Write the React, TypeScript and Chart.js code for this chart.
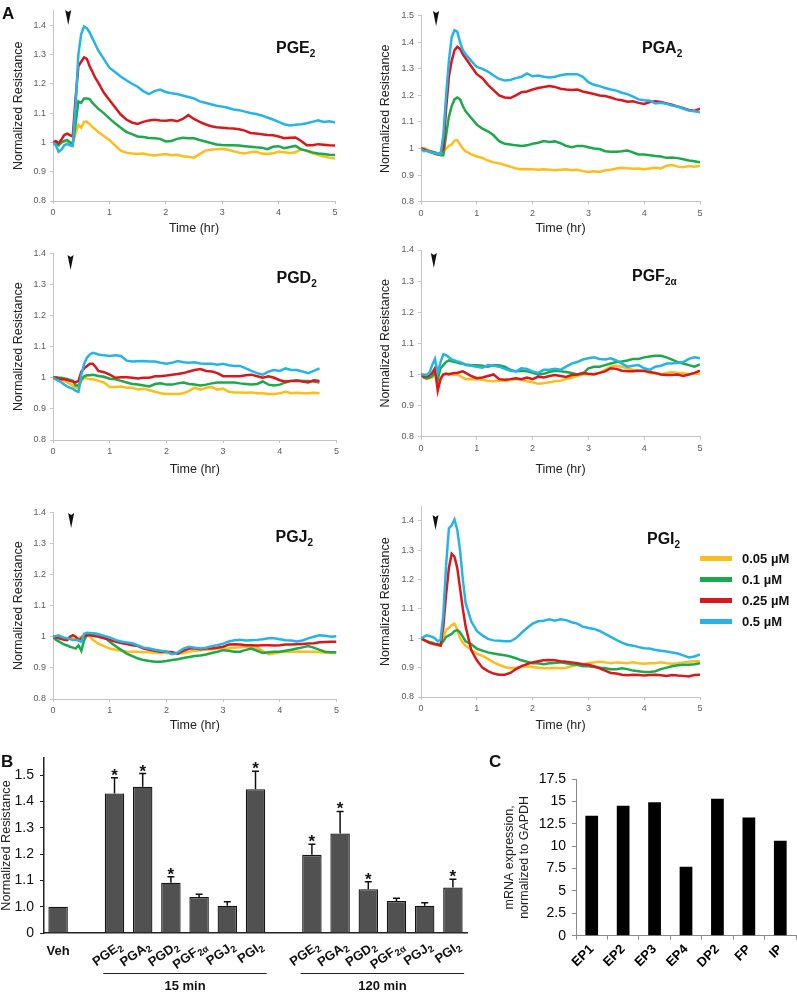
import React, { useEffect, useRef } from 'react';
import { Chart, registerables } from 'chart.js';

Chart.register(...registerables);

const FONT = '"Liberation Sans", Arial, Helvetica, sans-serif';
Chart.defaults.font.family = FONT;

// ---------------- Panel A data ----------------
const TIME_HR = [0, 0.05, 0.1, 0.15, 0.2, 0.25, 0.3, 0.35, 0.4, 0.45, 0.5, 0.55, 0.6, 0.65, 0.7, 0.75, 0.8,
  0.9, 1, 1.1, 1.2, 1.3, 1.4, 1.5, 1.6, 1.7, 1.8, 1.9, 2, 2.1, 2.2, 2.3, 2.4, 2.5, 2.6, 2.7, 2.8, 2.9,
  3, 3.1, 3.2, 3.3, 3.4, 3.5, 3.6, 3.7, 3.8, 3.9, 4, 4.1, 4.2, 4.3, 4.4, 4.5, 4.6, 4.7, 4.8, 4.9, 5];

const DOSE_LABELS = ['0.05 µM', '0.1 µM', '0.25 µM', '0.5 µM'];
const DOSE_COLORS = ['#FDBE1C', '#1CA94C', '#D9181E', '#26B4E7'];

const X_TICKS = [0, 1, 2, 3, 4, 5];
const Y_TICKS_14 = [0.8, 0.9, 1, 1.1, 1.2, 1.3, 1.4];
const Y_TICKS_15 = [0.8, 0.9, 1, 1.1, 1.2, 1.3, 1.4, 1.5];

// PGE2
const PGE2_005 = [1.0, 0.995, 0.99, 1.0, 1.002, 1.005, 1.0, 0.997, 1.03, 1.06, 1.05, 1.07, 1.07, 1.062, 1.052, 1.045, 1.035,
  1.022, 1.008,
  0.99, 0.972, 0.965, 0.962, 0.96, 0.962, 0.958, 0.955, 0.958,
  0.96, 0.956, 0.958, 0.953, 0.951, 0.948, 0.96, 0.972, 0.975, 0.977,
  0.978, 0.975, 0.97, 0.965, 0.962, 0.966, 0.968, 0.962, 0.96, 0.963,
  0.968, 0.966, 0.964, 0.966, 0.976, 0.97, 0.963, 0.958, 0.952, 0.948,
  0.945];
const PGE2_01 = [1.0, 0.995, 0.99, 1.0, 1.005, 1.008, 1.0, 0.995, 1.06, 1.14, 1.135, 1.15, 1.15, 1.148, 1.135, 1.125, 1.115,
  1.1, 1.082,
  1.065, 1.05, 1.036, 1.028, 1.02, 1.018, 1.015, 1.014, 1.012,
  1.003, 1.005, 1.012, 1.016, 1.014, 1.014, 1.008, 1.003, 0.998, 0.993,
  0.991, 0.99, 0.99, 0.989, 0.987, 0.985, 0.983, 0.982, 0.977, 0.985,
  0.987, 0.98, 0.984, 0.988, 0.976, 0.972, 0.966, 0.962, 0.96, 0.958,
  0.957];
const PGE2_025 = [1.0, 1.005, 0.997, 1.01, 1.025, 1.03, 1.025, 1.02, 1.15, 1.26, 1.275, 1.29, 1.285, 1.26, 1.24, 1.22, 1.205,
  1.17, 1.145,
  1.12, 1.095, 1.078, 1.068, 1.063, 1.07, 1.075, 1.077, 1.075,
  1.074, 1.076, 1.072, 1.08, 1.093, 1.08, 1.07, 1.062, 1.055, 1.052,
  1.05, 1.048, 1.047, 1.045, 1.04, 1.032, 1.03, 1.028, 1.025, 1.024,
  1.02, 1.014, 1.016, 1.017, 1.005, 0.99, 0.99, 0.994, 0.992, 0.99,
  0.989];
const PGE2_05 = [1.0, 0.99, 0.968, 0.975, 0.99, 0.995, 0.99, 0.988, 1.12, 1.3, 1.37, 1.395, 1.39, 1.375, 1.355, 1.335, 1.315,
  1.285, 1.255,
  1.24, 1.225, 1.212, 1.2, 1.19, 1.175, 1.165, 1.175, 1.18,
  1.172, 1.168, 1.165, 1.16, 1.155, 1.15, 1.14, 1.135, 1.13, 1.125,
  1.122, 1.118, 1.112, 1.11, 1.105, 1.1, 1.097, 1.092, 1.085, 1.078,
  1.07, 1.062, 1.058, 1.06, 1.062, 1.065, 1.07, 1.075, 1.07, 1.072,
  1.068];

// PGA2
const PGA2_005 = [1.0, 1.002, 0.998, 0.992, 0.988, 0.985, 0.98, 0.985, 0.988, 1.0, 1.01, 1.015, 1.03, 1.032, 1.015, 1.0, 0.99,
  0.978, 0.97,
  0.965, 0.955, 0.948, 0.945, 0.938, 0.932, 0.925, 0.922, 0.923,
  0.922, 0.92, 0.922, 0.92, 0.918, 0.92, 0.922, 0.918, 0.92, 0.915,
  0.912, 0.915, 0.912, 0.918, 0.92, 0.925, 0.928, 0.926, 0.924, 0.925,
  0.922, 0.925, 0.928, 0.925, 0.935, 0.938, 0.932, 0.93, 0.934, 0.932,
  0.935];
const PGA2_01 = [1.0, 0.995, 0.992, 0.99, 0.988, 0.985, 0.98, 0.975, 0.975, 1.05, 1.12, 1.16, 1.185, 1.192, 1.185, 1.16, 1.14,
  1.115, 1.09,
  1.075, 1.065, 1.05, 1.028, 1.018, 1.015, 1.012, 1.01, 1.012,
  1.018, 1.022, 1.028, 1.025, 1.027, 1.02, 1.01, 1.005, 1.01, 1.01,
  1.005, 1.0, 0.998, 0.99, 0.988, 0.988, 0.99, 0.993, 0.985, 0.978,
  0.978, 0.975, 0.972, 0.97, 0.965, 0.966, 0.964, 0.96, 0.955, 0.952,
  0.948];
const PGA2_025 = [1.0, 0.998, 0.993, 0.988, 0.985, 0.98, 0.978, 0.982, 1.0, 1.15, 1.27, 1.33, 1.37, 1.383, 1.375, 1.355, 1.34,
  1.31, 1.28,
  1.265, 1.24, 1.22, 1.2, 1.192, 1.19, 1.2, 1.212, 1.215,
  1.222, 1.228, 1.232, 1.235, 1.232, 1.225, 1.222, 1.22, 1.222, 1.215,
  1.21, 1.205, 1.2, 1.198, 1.192, 1.185, 1.182, 1.176, 1.178, 1.172,
  1.168, 1.175, 1.178, 1.175, 1.17, 1.165, 1.158, 1.152, 1.145, 1.142,
  1.15];
const PGA2_05 = [1.0, 0.99, 0.992, 0.988, 0.985, 0.982, 0.98, 0.978, 1.05, 1.2, 1.33, 1.42, 1.445, 1.44, 1.4, 1.37, 1.355,
  1.33, 1.307,
  1.3, 1.29, 1.275, 1.262, 1.256, 1.258, 1.265, 1.27, 1.283,
  1.272, 1.275, 1.27, 1.267, 1.27, 1.276, 1.28, 1.28, 1.28, 1.27,
  1.25, 1.24, 1.235, 1.228, 1.222, 1.218, 1.21, 1.205, 1.195, 1.185,
  1.182, 1.18, 1.17, 1.172, 1.168, 1.162, 1.158, 1.15, 1.143, 1.14,
  1.137];

// PGD2 (recording ends near 4.7 h)
const PGD2_005 = [1.0, 1.0, 0.998, 0.995, 0.99, 0.985, 0.98, 0.975, 0.97, 0.965, 0.99, 1.0, 0.998, 0.995, 0.995, 0.993, 0.99,
  0.985, 0.97,
  0.97, 0.972, 0.968, 0.968, 0.962, 0.965, 0.96, 0.955, 0.95,
  0.948, 0.948, 0.948, 0.95, 0.958, 0.968, 0.962, 0.968, 0.97, 0.962,
  0.965, 0.955, 0.953, 0.953, 0.952, 0.953, 0.95, 0.95, 0.948, 0.948,
  0.95, 0.955, 0.95, 0.952, 0.95, 0.95, 0.952, 0.95];
const PGD2_01 = [1.0, 1.002, 1.0, 1.0, 0.998, 0.996, 0.993, 0.99, 0.975, 0.975, 0.995, 1.005, 1.008, 1.008, 1.01, 1.008, 1.006,
  1.003, 0.997,
  0.995, 0.99, 0.985, 0.98, 0.978, 0.975, 0.972, 0.98, 0.982,
  0.978, 0.978, 0.982, 0.985, 0.98, 0.978, 0.975, 0.978, 0.982, 0.985,
  0.985, 0.985, 0.985, 0.982, 0.98, 0.978, 0.98, 0.988, 0.978, 0.975,
  0.978, 0.985, 0.99, 0.992, 0.99, 0.99, 0.988, 0.985];
const PGD2_025 = [1.0, 1.0, 0.998, 0.995, 0.995, 0.993, 0.99, 0.988, 0.985, 0.99, 1.02, 1.03, 1.038, 1.045, 1.045, 1.035, 1.022,
  1.018, 1.01,
  1.0, 1.002, 1.002, 1.0, 0.998, 1.0, 1.0, 1.005, 1.005,
  1.007, 1.01, 1.012, 1.015, 1.02, 1.025, 1.028, 1.022, 1.02, 1.015,
  1.005, 1.005, 1.005, 1.005, 1.008, 1.01, 1.005, 1.0, 1.005, 1.0,
  0.992, 0.988, 0.99, 0.99, 0.988, 0.985, 0.992, 0.99];
const PGD2_05 = [1.0, 0.995, 0.99, 0.985, 0.978, 0.972, 0.968, 0.965, 0.958, 0.955, 1.01, 1.045, 1.065, 1.075, 1.08, 1.078, 1.075,
  1.072, 1.07,
  1.072, 1.07, 1.055, 1.052, 1.053, 1.054, 1.052, 1.052, 1.048,
  1.045, 1.048, 1.054, 1.05, 1.048, 1.05, 1.046, 1.045, 1.045, 1.042,
  1.045, 1.04, 1.038, 1.038, 1.03, 1.022, 1.015, 1.01, 1.02, 1.025,
  1.022, 1.03, 1.025, 1.025, 1.02, 1.015, 1.022, 1.03];

// PGF2α
const PGF2A_005 = [1.0, 0.99, 0.985, 0.988, 0.99, 1.0, 0.97, 0.99, 1.0, 1.0, 1.002, 1.0, 0.998, 1.0, 0.995, 0.99, 0.985,
  0.985, 0.985,
  0.982, 0.98, 0.978, 0.98, 0.98, 0.982, 0.985, 0.982, 0.978,
  0.975, 0.97, 0.972, 0.975, 0.978, 0.98, 0.985, 0.99, 0.995, 1.0,
  1.0, 1.002, 1.005, 1.015, 1.025, 1.028, 1.025, 1.02, 1.015, 1.012,
  1.01, 1.005, 1.003, 1.0, 1.005, 1.008, 1.005, 1.005, 1.0, 1.003,
  1.002];
const PGF2A_01 = [1.0, 0.99, 0.988, 0.99, 0.995, 1.005, 0.985, 1.02, 1.03, 1.04, 1.045, 1.042, 1.04, 1.038, 1.035, 1.035, 1.032,
  1.03, 1.03,
  1.028, 1.025, 1.03, 1.03, 1.025, 1.015, 1.01, 1.012, 1.01,
  1.005, 1.0, 1.002, 1.008, 1.012, 1.01, 1.008, 1.005, 1.0, 1.002,
  1.02, 1.025, 1.025, 1.03, 1.035, 1.04, 1.042, 1.045, 1.05, 1.05,
  1.055, 1.058, 1.06, 1.06, 1.055, 1.048, 1.04, 1.035, 1.03, 1.025,
  1.032];
const PGF2A_025 = [1.0, 0.995, 0.993, 0.998, 1.005, 1.02, 0.948, 0.985, 1.0, 1.003, 1.0, 1.003, 1.005, 1.005, 1.008, 1.01, 1.005,
  0.995, 0.988,
  0.99, 0.995, 1.0, 0.985, 0.983, 0.985, 0.988, 0.985, 0.99,
  0.985, 0.993, 0.99, 0.995, 0.998, 0.995, 0.992, 0.998, 1.0, 1.005,
  1.002, 1.0, 1.005, 1.01, 1.02, 1.018, 1.012, 1.01, 1.01, 1.012,
  1.012, 1.008, 1.005, 1.0, 0.998, 0.998, 1.0, 0.995, 1.0, 1.005,
  1.012];
const PGF2A_05 = [1.0, 1.0, 0.998, 1.005, 1.03, 1.05, 1.005, 1.04, 1.065, 1.062, 1.055, 1.048, 1.045, 1.042, 1.04, 1.035, 1.03,
  1.028, 1.025,
  1.022, 1.03, 1.028, 1.025, 1.018, 1.012, 1.01, 1.02, 1.018,
  1.01, 1.005, 1.015, 1.015, 1.018, 1.015, 1.025, 1.035, 1.04, 1.048,
  1.052, 1.055, 1.05, 1.048, 1.052, 1.045, 1.035, 1.025, 1.028, 1.03,
  1.02, 1.015, 1.025, 1.028, 1.035, 1.035, 1.038, 1.04, 1.05, 1.055,
  1.052];

// PGJ2
const PGJ2_005 = [1.0, 1.0, 0.998, 0.997, 0.995, 0.995, 0.997, 0.995, 0.993, 0.995, 1.0, 1.008, 1.01, 1.0, 0.99, 0.984, 0.978,
  0.97, 0.962,
  0.958, 0.955, 0.953, 0.952, 0.952, 0.95, 0.95, 0.949, 0.948,
  0.948, 0.947, 0.946, 0.948, 0.952, 0.955, 0.957, 0.958, 0.96, 0.962,
  0.962, 0.963, 0.965, 0.966, 0.968, 0.968, 0.965, 0.955, 0.944, 0.946,
  0.95, 0.952, 0.952, 0.953, 0.952, 0.952, 0.952, 0.95, 0.949, 0.948,
  0.948];
const PGJ2_01 = [1.0, 0.99, 0.985, 0.98, 0.975, 0.972, 0.968, 0.965, 0.962, 0.972, 0.955, 0.99, 1.005, 1.008, 1.01, 1.01, 1.008,
  1.0, 0.984,
  0.97, 0.958, 0.946, 0.938, 0.93, 0.925, 0.922, 0.92, 0.92,
  0.922, 0.925, 0.928, 0.932, 0.935, 0.938, 0.94, 0.943, 0.948, 0.952,
  0.957, 0.955, 0.952, 0.952, 0.958, 0.962, 0.955, 0.948, 0.95, 0.952,
  0.952, 0.955, 0.958, 0.962, 0.966, 0.97, 0.965, 0.958, 0.952, 0.95,
  0.95];
const PGJ2_025 = [1.0, 0.998, 0.995, 0.993, 0.99, 0.989, 1.0, 1.005, 1.0, 0.989, 0.995, 1.002, 1.005, 1.005, 1.003, 1.002, 1.0,
  0.995, 0.99,
  0.985, 0.98, 0.977, 0.973, 0.97, 0.962, 0.958, 0.955, 0.952,
  0.952, 0.95, 0.946, 0.955, 0.962, 0.962, 0.96, 0.962, 0.962, 0.965,
  0.968, 0.975, 0.976, 0.975, 0.973, 0.973, 0.972, 0.973, 0.973, 0.972,
  0.973, 0.975, 0.975, 0.976, 0.977, 0.978, 0.979, 0.982, 0.983, 0.984,
  0.984];
const PGJ2_05 = [1.0, 1.003, 1.005, 1.0, 0.997, 0.995, 0.993, 0.99, 0.99, 0.988, 0.984, 1.01, 1.013, 1.012, 1.011, 1.01, 1.008,
  1.003, 0.998,
  0.99, 0.985, 0.982, 0.979, 0.972, 0.965, 0.962, 0.958, 0.955,
  0.952, 0.944, 0.95, 0.962, 0.968, 0.965, 0.962, 0.965, 0.97, 0.973,
  0.978, 0.985, 0.989, 0.99, 0.988, 0.989, 0.99, 0.992, 0.995, 0.995,
  0.992, 0.989, 0.988, 0.985, 0.988, 0.995, 1.0, 1.005, 1.003, 1.0,
  1.002];

// PGI2
const PGI2_005 = [1.0, 0.995, 0.99, 0.985, 0.982, 0.98, 0.978, 0.975, 1.0, 1.03, 1.035, 1.045, 1.05, 1.03, 1.0, 0.985, 0.975,
  0.96, 0.948,
  0.94, 0.93, 0.918, 0.91, 0.902, 0.898, 0.9, 0.902, 0.905,
  0.902, 0.9, 0.898, 0.898, 0.9, 0.898, 0.9, 0.905, 0.91, 0.912,
  0.915, 0.918, 0.92, 0.918, 0.915, 0.918, 0.917, 0.915, 0.918, 0.915,
  0.913, 0.915, 0.915, 0.918, 0.915, 0.913, 0.915, 0.918, 0.92, 0.922,
  0.922];
const PGI2_01 = [1.0, 0.995, 0.99, 0.988, 0.985, 0.982, 0.98, 0.978, 0.99, 1.005, 1.01, 1.015, 1.025, 1.028, 1.02, 1.005, 0.99,
  0.98, 0.965,
  0.958, 0.952, 0.948, 0.945, 0.942, 0.938, 0.932, 0.925, 0.92,
  0.915, 0.915, 0.912, 0.915, 0.916, 0.918, 0.915, 0.912, 0.91, 0.905,
  0.905, 0.902, 0.9, 0.898, 0.895, 0.895, 0.898, 0.895, 0.89, 0.888,
  0.885, 0.885, 0.888, 0.895, 0.9, 0.905, 0.908, 0.91, 0.91, 0.912,
  0.915];
const PGI2_025 = [1.0, 0.995, 0.99, 0.985, 0.982, 0.98, 0.978, 0.975, 1.04, 1.15, 1.24, 1.288, 1.278, 1.24, 1.17, 1.1, 1.04,
  0.96, 0.925,
  0.9, 0.888, 0.88, 0.876, 0.876, 0.882, 0.895, 0.905, 0.912,
  0.918, 0.922, 0.925, 0.926, 0.925, 0.922, 0.92, 0.918, 0.915, 0.912,
  0.91, 0.905, 0.898, 0.89, 0.882, 0.88, 0.876, 0.874, 0.876, 0.875,
  0.873, 0.875, 0.876, 0.874, 0.872, 0.875, 0.873, 0.872, 0.87, 0.875,
  0.876];
const PGI2_05 = [1.0, 1.005, 1.01, 1.008, 1.005, 1.0, 0.99, 0.995, 1.08, 1.25, 1.375, 1.385, 1.405, 1.37, 1.3, 1.2, 1.12,
  1.058, 1.025,
  1.01, 0.998, 0.993, 0.992, 0.99, 0.99, 1.0, 1.018, 1.035,
  1.05, 1.058, 1.06, 1.065, 1.06, 1.065, 1.062, 1.055, 1.05, 1.04,
  1.035, 1.032, 1.025, 1.015, 1.005, 0.995, 0.985, 0.978, 0.975, 0.97,
  0.966, 0.965, 0.96, 0.958, 0.955, 0.952, 0.948, 0.942, 0.935, 0.938,
  0.945];

// ---------------- Panel B data ----------------
const B_AXIS_BREAK = 0.9; // drawn as "0" on the broken axis
const B_NAMES = ['Veh', '', 'PGE', 'PGA', 'PGD', 'PGF', 'PGJ', 'PGI', '', 'PGE', 'PGA', 'PGD', 'PGF', 'PGJ', 'PGI'];
const B_SUBS = ['', '', '2', '2', '2', '2α', '2', '2', '', '2', '2', '2', '2α', '2', '2'];
const B_VALUES = [1.0, null, 1.43, 1.456, 1.091, 1.037, 1.004, 1.446, null, 1.197, 1.278, 1.066, 1.022, 1.004, 1.073];
const B_SEM = [0, null, 0.06, 0.05, 0.023, 0.01, 0.015, 0.069, null, 0.04, 0.084, 0.029, 0.01, 0.011, 0.031];
const B_SIG = [false, false, true, true, true, false, false, true, false, true, true, true, false, false, true];
const B_TICKS = [0.9, 1.0, 1.1, 1.2, 1.3, 1.4, 1.5];
const B_GROUPS = [
  { label: '15 min', first: 2, last: 7 },
  { label: '120 min', first: 9, last: 14 },
];

// ---------------- Panel C data ----------------
const C_LABELS = ['EP1', 'EP2', 'EP3', 'EP4', 'DP2', 'FP', 'IP'];
const C_VALUES = [13.4, 14.5, 14.9, 7.7, 15.3, 13.2, 10.6];

// ---------------- layout ----------------
const AXIS_GRAY = '#c4c4c4';
const TICK_GRAY = '#5a5a5a';

const COLS = [{ left: 0, width: 367 }, { left: 367, width: 430 }];
const ROWS = [{ top: 0, height: 236 }, { top: 240, height: 237 }, { top: 495, height: 238 }];

type Panel = {
  name: string; sub: string; series: number[][]; yMax: number; yTicks: number[];
  col: number; row: number; area: { l: number; r: number; t: number; b: number };
  arrow: { time: number; top: number }; titleAt: { x: number; y: number };
};

const PANELS: Panel[] = [
  { name: 'PGE', sub: '2', series: [PGE2_005, PGE2_01, PGE2_025, PGE2_05], yMax: 1.45, yTicks: Y_TICKS_14,
    col: 0, row: 0, area: { l: 53, r: 335, t: 10.5, b: 201 }, arrow: { time: 0.27, top: 10 }, titleAt: { x: 276, y: 39.5 } },
  { name: 'PGA', sub: '2', series: [PGA2_005, PGA2_01, PGA2_025, PGA2_05], yMax: 1.5, yTicks: Y_TICKS_15,
    col: 1, row: 0, area: { l: 421, r: 700, t: 15.7, b: 201.7 }, arrow: { time: 0.27, top: 11 }, titleAt: { x: 642, y: 39.5 } },
  { name: 'PGD', sub: '2', series: [PGD2_005, PGD2_01, PGD2_025, PGD2_05], yMax: 1.4, yTicks: Y_TICKS_14,
    col: 0, row: 1, area: { l: 53, r: 336.5, t: 253.3, b: 440 }, arrow: { time: 0.31, top: 15 }, titleAt: { x: 276.5, y: 269.5 } },
  { name: 'PGF', sub: '2α', series: [PGF2A_005, PGF2A_01, PGF2A_025, PGF2A_05], yMax: 1.4, yTicks: Y_TICKS_14,
    col: 1, row: 1, area: { l: 421, r: 700, t: 250, b: 436.7 }, arrow: { time: 0.23, top: 13 }, titleAt: { x: 632, y: 268 } },
  { name: 'PGJ', sub: '2', series: [PGJ2_005, PGJ2_01, PGJ2_025, PGJ2_05], yMax: 1.4, yTicks: Y_TICKS_14,
    col: 0, row: 2, area: { l: 53, r: 336.5, t: 512.3, b: 699 }, arrow: { time: 0.32, top: 18 }, titleAt: { x: 275.5, y: 528.5 } },
  { name: 'PGI', sub: '2', series: [PGI2_005, PGI2_01, PGI2_025, PGI2_05], yMax: 1.45, yTicks: Y_TICKS_14,
    col: 1, row: 2, area: { l: 421, r: 700, t: 506.3, b: 697 }, arrow: { time: 0.26, top: 20 }, titleAt: { x: 647, y: 531 } },
];

const arrowPlugin = {
  id: 'arrowMark',
  afterDraw(chart: any, _args: any, opts: any) {
    const x = chart.scales.x.getPixelForValue(opts.time);
    const ctx = chart.ctx;
    ctx.save();
    ctx.fillStyle = '#111';
    ctx.beginPath();
    ctx.moveTo(x - 3, opts.top);
    ctx.lineTo(x, opts.top + 2);
    ctx.lineTo(x + 3, opts.top);
    ctx.lineTo(x, opts.top + 15);
    ctx.closePath();
    ctx.fill();
    ctx.restore();
  },
};

function fmtTick(v: any) {
  return String(Number(Number(v).toFixed(2)));
}

function LinePanel({ p }: { p: Panel }) {
  const ref = useRef<HTMLCanvasElement>(null);
  const col = COLS[p.col];
  const row = ROWS[p.row];
  useEffect(() => {
    const a = p.area;
    const chart = new Chart(ref.current as HTMLCanvasElement, {
      type: 'line',
      data: {
        datasets: p.series.map((s, k) => ({
          label: DOSE_LABELS[k],
          data: s.map((v, i) => ({ x: TIME_HR[i], y: v })),
          borderColor: DOSE_COLORS[k],
          backgroundColor: DOSE_COLORS[k],
          borderWidth: 2.5,
          pointRadius: 0,
          tension: 0,
          fill: false,
          order: DOSE_LABELS.length - 1 - k,
        })),
      },
      options: {
        responsive: false,
        animation: false,
        devicePixelRatio: 1,
        events: [],
        layout: { padding: { top: a.t - row.top, right: col.left + col.width - a.r, left: 0, bottom: 0 } },
        plugins: {
          legend: { display: false },
          tooltip: { enabled: false },
          arrowMark: { time: p.arrow.time, top: p.arrow.top },
        } as any,
        scales: {
          x: {
            type: 'linear', min: 0, max: 5,
            afterBuildTicks: (s: any) => { s.ticks = X_TICKS.map((v) => ({ value: v })); },
            afterFit: (s: any) => { s.height = row.top + row.height - a.b; s.paddingLeft = 0; s.paddingRight = 0; },
            ticks: { font: { size: 9 }, color: TICK_GRAY, padding: 3, callback: fmtTick },
            grid: { drawOnChartArea: false, tickLength: 3, color: AXIS_GRAY },
            border: { color: AXIS_GRAY, width: 1 },
            title: { display: true, text: 'Time (hr)', color: '#222', font: { size: 12.5, lineHeight: 1.2 }, padding: 0 },
          },
          y: {
            type: 'linear', min: 0.8, max: p.yMax,
            afterBuildTicks: (s: any) => { s.ticks = p.yTicks.map((v) => ({ value: v })); },
            afterFit: (s: any) => { s.width = a.l - col.left; s.paddingTop = 0; s.paddingBottom = 0; },
            ticks: { font: { size: 9 }, color: TICK_GRAY, padding: 4, callback: fmtTick },
            grid: { drawOnChartArea: false, tickLength: 3, color: AXIS_GRAY },
            border: { color: AXIS_GRAY, width: 1 },
            title: { display: true, text: 'Normalized Resistance', color: '#222', font: { size: 12.5, lineHeight: 1.2 }, padding: { top: 11, bottom: 0 } },
          },
        },
      } as any,
      plugins: [arrowPlugin],
    });
    return () => chart.destroy();
  }, [p]);
  return (
    <canvas ref={ref} width={col.width} height={row.height}
      style={{ position: 'absolute', left: col.left, top: row.top, width: col.width, height: row.height }} />
  );
}

// ---------- Panel B ----------
const errorBarPlugin = {
  id: 'errorBars',
  afterDatasetsDraw(chart: any) {
    const meta = chart.getDatasetMeta(0);
    const y = chart.scales.y;
    const ctx = chart.ctx;
    ctx.save();
    ctx.strokeStyle = '#111';
    ctx.fillStyle = '#111';
    ctx.lineWidth = 1.5;
    B_VALUES.forEach((v, i) => {
      if (v == null) return;
      const el = meta.data[i];
      const x = el.x;
      const err = B_SEM[i] || 0;
      let capY = y.getPixelForValue(v);
      if (err > 0) {
        capY = y.getPixelForValue(v + err);
        ctx.beginPath();
        ctx.moveTo(x, y.getPixelForValue(v));
        ctx.lineTo(x, capY);
        ctx.moveTo(x - 3.5, capY);
        ctx.lineTo(x + 3.5, capY);
        ctx.stroke();
      }
      if (B_SIG[i]) {
        ctx.font = `bold 17px ${FONT}`;
        ctx.textAlign = 'center';
        ctx.textBaseline = 'alphabetic';
        ctx.fillText('*', x, capY + 3);
      }
    });
    ctx.restore();
  },
};

const bLabelPlugin = {
  id: 'bLabels',
  afterDraw(chart: any) {
    const xs = chart.scales.x;
    const meta = chart.getDatasetMeta(0);
    const ctx = chart.ctx;
    const y0 = xs.top;
    ctx.save();
    ctx.fillStyle = '#111';
    B_NAMES.forEach((name, i) => {
      if (!name) return;
      const x = xs.getPixelForValue(i);
      const sub = B_SUBS[i];
      if (!sub) {
        ctx.font = `bold 13px ${FONT}`;
        ctx.textAlign = 'center';
        ctx.textBaseline = 'top';
        ctx.fillText(name, x, y0 + 12);
        return;
      }
      ctx.save();
      ctx.translate(x + 3, y0 + 7);
      ctx.rotate(-35 * Math.PI / 180);
      ctx.textAlign = 'left';
      ctx.textBaseline = 'alphabetic';
      ctx.font = `bold 13px ${FONT}`;
      const wMain = ctx.measureText(name).width;
      ctx.font = `bold 9.5px ${FONT}`;
      const wSub = ctx.measureText(sub).width;
      ctx.font = `bold 13px ${FONT}`;
      ctx.fillText(name, -(wMain + wSub), 9.5);
      ctx.font = `bold 9.5px ${FONT}`;
      ctx.fillText(sub, -wSub, 12.5);
      ctx.restore();
    });
    ctx.strokeStyle = '#222';
    ctx.lineWidth = 1;
    B_GROUPS.forEach((g) => {
      const e1 = meta.data[g.first];
      const e2 = meta.data[g.last];
      const x1 = e1.x - e1.width / 2 - 1.5;
      const x2 = e2.x + e2.width / 2 + 1.5;
      ctx.beginPath();
      ctx.moveTo(x1, y0 + 40.5);
      ctx.lineTo(x2, y0 + 40.5);
      ctx.stroke();
      ctx.font = `bold 13px ${FONT}`;
      ctx.textAlign = 'center';
      ctx.textBaseline = 'middle';
      ctx.fillText(g.label, (x1 + x2) / 2, y0 + 53.5);
    });
    ctx.restore();
  },
};

const B_BOX = { left: 0, top: 745, width: 480, height: 253 };
const B_AREA = { l: 44, r: 467, t: 758, b: 933 };

function ChartB() {
  const ref = useRef<HTMLCanvasElement>(null);
  useEffect(() => {
    const chart = new Chart(ref.current as HTMLCanvasElement, {
      type: 'bar',
      data: {
        labels: B_NAMES.map((n, i) => n + B_SUBS[i]),
        datasets: [{
          data: B_VALUES as any,
          base: B_AXIS_BREAK,
          backgroundColor: '#515151',
          borderColor: '#151515',
          borderWidth: 1.3,
          barPercentage: 0.69,
          categoryPercentage: 1,
        } as any],
      },
      options: {
        responsive: false, animation: false, devicePixelRatio: 1, events: [],
        layout: { padding: { top: B_AREA.t - B_BOX.top, right: B_BOX.left + B_BOX.width - B_AREA.r, left: 0, bottom: 0 } },
        plugins: { legend: { display: false }, tooltip: { enabled: false } },
        scales: {
          x: {
            ticks: { display: false },
            grid: { display: false },
            border: { color: '#222', width: 1.5 },
            afterFit: (s: any) => { s.height = B_BOX.top + B_BOX.height - B_AREA.b; s.paddingLeft = 0; s.paddingRight = 0; },
          },
          y: {
            min: B_AXIS_BREAK, max: 1.565,
            afterBuildTicks: (s: any) => { s.ticks = B_TICKS.map((v) => ({ value: v })); },
            afterFit: (s: any) => { s.width = B_AREA.l - B_BOX.left; s.paddingTop = 0; s.paddingBottom = 0; },
            ticks: {
              font: { size: 14 }, color: '#111', padding: 6,
              callback: (v: any) => (Math.abs(Number(v) - B_AXIS_BREAK) < 1e-6 ? '0' : Number(v).toFixed(1)),
            },
            grid: { drawOnChartArea: false, tickLength: 4, color: '#222' },
            border: { color: '#222', width: 1.5 },
            title: { display: true, text: 'Normalized Resistance', color: '#222', font: { size: 12.7, lineHeight: 1 }, padding: 0 },
          },
        },
      } as any,
      plugins: [errorBarPlugin, bLabelPlugin],
    });
    return () => chart.destroy();
  }, []);
  return (
    <canvas ref={ref} width={B_BOX.width} height={B_BOX.height}
      style={{ position: 'absolute', left: B_BOX.left, top: B_BOX.top, width: B_BOX.width, height: B_BOX.height }} />
  );
}

// ---------- Panel C ----------
const C_BOX = { left: 495, top: 765, width: 302, height: 233 };
const C_AREA = { l: 576, r: 796, t: 779, b: 935.7 };

function ChartC() {
  const ref = useRef<HTMLCanvasElement>(null);
  useEffect(() => {
    const chart = new Chart(ref.current as HTMLCanvasElement, {
      type: 'bar',
      data: {
        labels: C_LABELS,
        datasets: [{ data: C_VALUES, backgroundColor: '#000', borderWidth: 0, barPercentage: 0.405, categoryPercentage: 1 }],
      },
      options: {
        responsive: false, animation: false, devicePixelRatio: 1, events: [],
        layout: { padding: { top: C_AREA.t - C_BOX.top, right: C_BOX.left + C_BOX.width - C_AREA.r, left: 0, bottom: 0 } },
        plugins: { legend: { display: false }, tooltip: { enabled: false } },
        scales: {
          x: {
            ticks: { font: { size: 13, weight: 'bold' }, color: '#000', minRotation: 45, maxRotation: 45, padding: 2 },
            grid: { drawOnChartArea: false, tickLength: 4, offset: true, color: '#8a8a8a' },
            border: { color: '#8a8a8a', width: 1 },
            afterFit: (s: any) => { s.height = C_BOX.top + C_BOX.height - C_AREA.b; s.paddingLeft = 0; s.paddingRight = 0; },
          },
          y: {
            min: 0, max: 17.5,
            ticks: { stepSize: 2.5, font: { size: 14 }, color: '#000', padding: 6, callback: (v: any) => String(Number(v)) },
            grid: { drawOnChartArea: false, tickLength: 4, color: '#8a8a8a' },
            border: { color: '#8a8a8a', width: 1 },
            afterFit: (s: any) => { s.width = C_AREA.l - C_BOX.left; s.paddingTop = 0; s.paddingBottom = 0; },
            title: {
              display: true, text: ['mRNA expression,', 'normalized to GAPDH'], color: '#222',
              font: { size: 12.5, lineHeight: 1.2 }, padding: { top: 7.5, bottom: 0 },
            },
          },
        },
      } as any,
    });
    return () => chart.destroy();
  }, []);
  return (
    <canvas ref={ref} width={C_BOX.width} height={C_BOX.height}
      style={{ position: 'absolute', left: C_BOX.left, top: C_BOX.top, width: C_BOX.width, height: C_BOX.height }} />
  );
}

const letterStyle = (left: number, top: number): React.CSSProperties => ({
  position: 'absolute', left, top, font: `bold 17px ${FONT}`, lineHeight: '17px', color: '#111',
});

export default function App() {
  return (
    <div style={{ position: 'absolute', left: 0, top: 0, width: 797, height: 998, overflow: 'hidden', background: '#fff', fontFamily: FONT }}>
      {PANELS.map((p, i) => <LinePanel key={i} p={p} />)}
      {PANELS.map((p, i) => (
        <div key={'t' + i} style={{ position: 'absolute', left: p.titleAt.x, top: p.titleAt.y, font: `bold 16px ${FONT}`, lineHeight: '16px', color: '#111', whiteSpace: 'nowrap' }}>
          {p.name}
          <span style={{ fontSize: 10, position: 'relative', top: 4 }}>{p.sub}</span>
        </div>
      ))}
      <div style={{ position: 'absolute', left: 700, top: 548, width: 97 }}>
        {DOSE_LABELS.map((l, k) => (
          <div key={l} style={{ display: 'flex', alignItems: 'center', height: 21 }}>
            <div style={{ width: 32, height: 5, background: DOSE_COLORS[k] }} />
            <div style={{ marginLeft: 10, font: `bold 13px ${FONT}`, color: '#111', whiteSpace: 'nowrap' }}>{l}</div>
          </div>
        ))}
      </div>
      <ChartB />
      <ChartC />
      <div style={letterStyle(2, 5)}>A</div>
      <div style={letterStyle(1, 753)}>B</div>
      <div style={letterStyle(489, 753)}>C</div>
    </div>
  );
}
